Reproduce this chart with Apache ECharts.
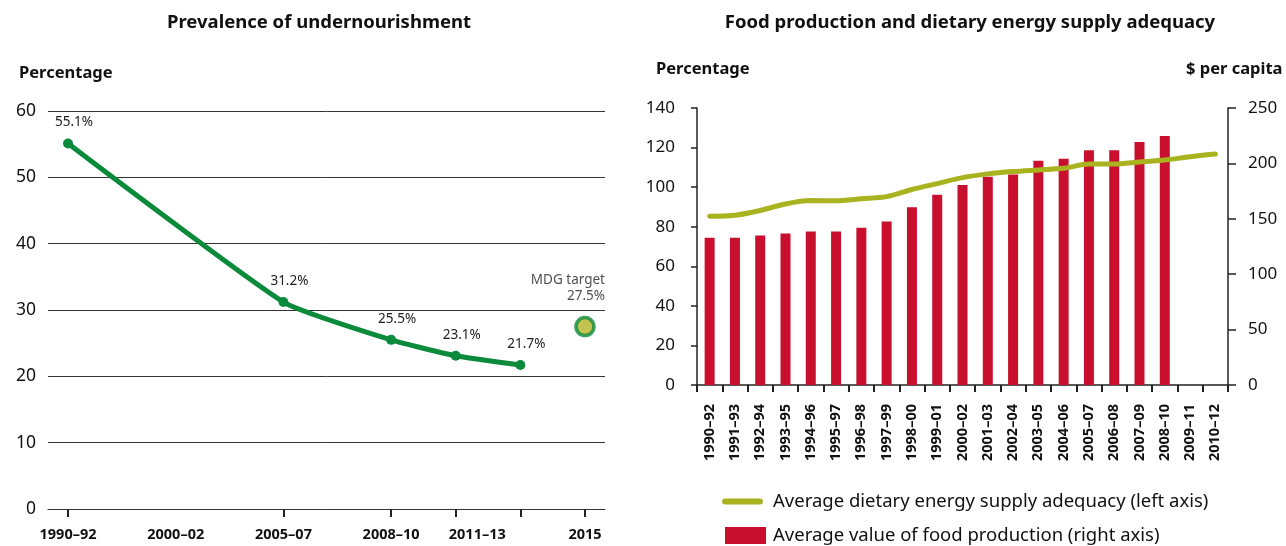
<!DOCTYPE html>
<html>
<head>
<meta charset="utf-8">
<script src="https://cdn.jsdelivr.net/npm/echarts@6/dist/echarts.min.js"></script>
<style>
html,body{margin:0;padding:0;background:#fff;}
#c{width:1286px;height:546px;}
</style>
</head>
<body>
<div id="c"></div>
<script>
// ---- Left chart: Prevalence of undernourishment ----
const leftTickLabels = ['1990–92', '2000–02', '2005–07', '2008–10', '2011–13', '2015'];
const leftLabelPos = [0, 5, 10, 15, 19, 24];
const leftPointPos = [0, 10, 15, 18, 21];
const leftValues = [55.1, 31.2, 25.5, 23.1, 21.7];
const targetPos = 24;
const targetValue = 27.5;
const leftTickPos = [0, 10, 15, 18, 21, 24];

// ---- Right chart: Food production and DES adequacy ----
const rightCategories = ['1990–92','1991–93','1992–94','1993–95','1994–96','1995–97','1996–98','1997–99','1998–00','1999–01','2000–02','2001–03','2002–04','2003–05','2004–06','2005–07','2006–08','2007–09','2008–10','2009–11','2010–12'];
const desAdequacy = [85.3, 85.8, 88.2, 91.5, 93.2, 93.1, 94.1, 95.2, 98.8, 101.8, 104.8, 106.7, 107.9, 108.7, 109.5, 111.7, 111.7, 112.7, 113.7, 115.4, 116.8];
const foodProduction = [133, 133, 135, 136.7, 138.5, 138.5, 142, 147.5, 160.5, 171.6, 180.6, 188, 190, 202.5, 204.3, 211.8, 211.8, 219.3, 224.8, null, null];

const FONT = 'Noto Sans';
const chart = echarts.init(document.getElementById('c'), null, {renderer: 'canvas'});

const labelMap = {};
leftLabelPos.forEach((p, i) => { labelMap[p] = leftTickLabels[i]; });

const GREEN = '#0b8a3c';
const OLIVE = '#a9b31f';
const RED = '#c8102e';
const LINE_NAME = 'Average dietary energy supply adequacy (left axis)';
const BAR_NAME = 'Average value of food production (right axis)';

const option = {
  backgroundColor: '#fff',
  animation: false,
  textStyle: {fontFamily: FONT},
  title: [
    {text: 'Prevalence of undernourishment', left: 314, top: 8, textAlign: 'center',
     textStyle: {fontFamily: FONT, fontSize: 18.5, fontWeight: 'bold', color: '#111'}},
    {text: 'Food production and dietary energy supply adequacy', left: 965, top: 8, textAlign: 'center',
     textStyle: {fontFamily: FONT, fontSize: 18.5, fontWeight: 'bold', color: '#111'}},
    {text: 'Percentage', left: 14, top: 60,
     textStyle: {fontFamily: FONT, fontSize: 16.5, fontWeight: 'bold', color: '#111'}},
    {text: 'Percentage', left: 651, top: 56,
     textStyle: {fontFamily: FONT, fontSize: 16.5, fontWeight: 'bold', color: '#111'}},
    {text: '$ per capita', left: 1181, top: 56,
     textStyle: {fontFamily: FONT, fontSize: 16.5, fontWeight: 'bold', color: '#111'}}
  ],
  legend: [
    {
      left: 722, top: 492, padding: 0, itemWidth: 41, itemHeight: 6,
      textStyle: {fontFamily: FONT, fontSize: 18.5, color: '#111', padding: [0, 0, 0, 5]},
      data: [{name: LINE_NAME, icon: 'path://M3,0 L38,0 A3,3 0 0 1 38,6 L3,6 A3,3 0 0 1 3,0 Z'}]
    },
    {
      left: 725, top: 526, padding: 0, itemWidth: 41, itemHeight: 17,
      textStyle: {fontFamily: FONT, fontSize: 18.5, color: '#111', padding: [0, 0, 0, 2]},
      data: [{name: BAR_NAME, icon: 'rect'}]
    }
  ],
  grid: [
    {left: 48, right: 681, top: 111, bottom: 37},
    {left: 697, right: 58, top: 108, bottom: 161}
  ],
  xAxis: [
    {
      type: 'value', gridIndex: 0, min: -0.93, max: 24.93,
      splitLine: {show: false},
      axisLine: {show: true, lineStyle: {color: '#333', width: 1}},
      axisTick: {show: true, customValues: leftTickPos, length: 8, inside: false, lineStyle: {color: '#222', width: 2}},
      axisLabel: {customValues: leftLabelPos, formatter: v => labelMap[v] || '', fontSize: 14.5, fontWeight: 'bold', color: '#111', margin: 18, fontFamily: FONT}
    },
    {
      type: 'category', gridIndex: 1, data: rightCategories, boundaryGap: true,
      axisLine: {show: true, lineStyle: {color: '#222', width: 1.5}},
      axisTick: {show: true, interval: 0, length: 7, lineStyle: {color: '#222', width: 2}},
      axisLabel: {interval: 0, rotate: 90, fontSize: 14.5, fontWeight: 'bold', color: '#111', margin: 19, fontFamily: FONT}
    }
  ],
  yAxis: [
    {
      type: 'value', gridIndex: 0, min: 0, max: 60, interval: 10,
      axisLine: {show: false}, axisTick: {show: false},
      splitLine: {show: true, lineStyle: {color: '#333', width: 1}},
      axisLabel: {fontSize: 17.5, color: '#111', margin: 12, fontFamily: FONT}
    },
    {
      type: 'value', gridIndex: 1, min: 0, max: 140, interval: 20, position: 'left',
      axisLine: {show: true, lineStyle: {color: '#222', width: 1.5}},
      axisTick: {show: true, length: 6, lineStyle: {color: '#222', width: 1.5}},
      splitLine: {show: false},
      axisLabel: {fontSize: 17, color: '#111', margin: 22, fontFamily: FONT}
    },
    {
      type: 'value', gridIndex: 1, min: 0, max: 250, interval: 50, position: 'right',
      axisLine: {show: true, lineStyle: {color: '#222', width: 1.5}},
      axisTick: {show: true, length: 8, lineStyle: {color: '#222', width: 1.5}},
      splitLine: {show: false},
      axisLabel: {fontSize: 17, color: '#111', margin: 20, fontFamily: FONT}
    }
  ],
  series: [
    {
      name: 'Prevalence', type: 'line', xAxisIndex: 0, yAxisIndex: 0,
      data: leftPointPos.map((p, i) => [p, leftValues[i]]),
      smooth: 0.15,
      symbol: 'circle', symbolSize: 10, showSymbol: true,
      lineStyle: {color: GREEN, width: 5},
      itemStyle: {color: GREEN},
      label: {show: true, position: 'top', distance: 9, offset: [6, 0], formatter: p => p.value[1].toFixed(1) + '%',
        fontSize: 13.5, color: '#222', fontFamily: FONT}
    },
    {
      name: 'MDG target', type: 'scatter', xAxisIndex: 0, yAxisIndex: 0,
      data: [[targetPos, targetValue]],
      symbol: 'circle', symbolSize: 18,
      itemStyle: {color: '#b3b424', borderColor: GREEN, borderWidth: 3.5},
      label: {show: true, position: 'top', distance: 12, offset: [20, 0], align: 'right',
        formatter: p => 'MDG target\n' + p.value[1].toFixed(1) + '%', lineHeight: 16,
        fontSize: 13.5, color: '#222', fontFamily: FONT}
    },
    {
      name: BAR_NAME, type: 'bar', xAxisIndex: 1, yAxisIndex: 2,
      data: foodProduction, barWidth: 10,
      itemStyle: {color: RED}
    },
    {
      name: LINE_NAME, type: 'line', xAxisIndex: 1, yAxisIndex: 1,
      data: desAdequacy, smooth: 0.3, symbol: 'none',
      lineStyle: {color: OLIVE, width: 5, cap: 'round'},
      itemStyle: {color: OLIVE}
    }
  ]
};
chart.setOption(option);
</script>
</body>
</html>
